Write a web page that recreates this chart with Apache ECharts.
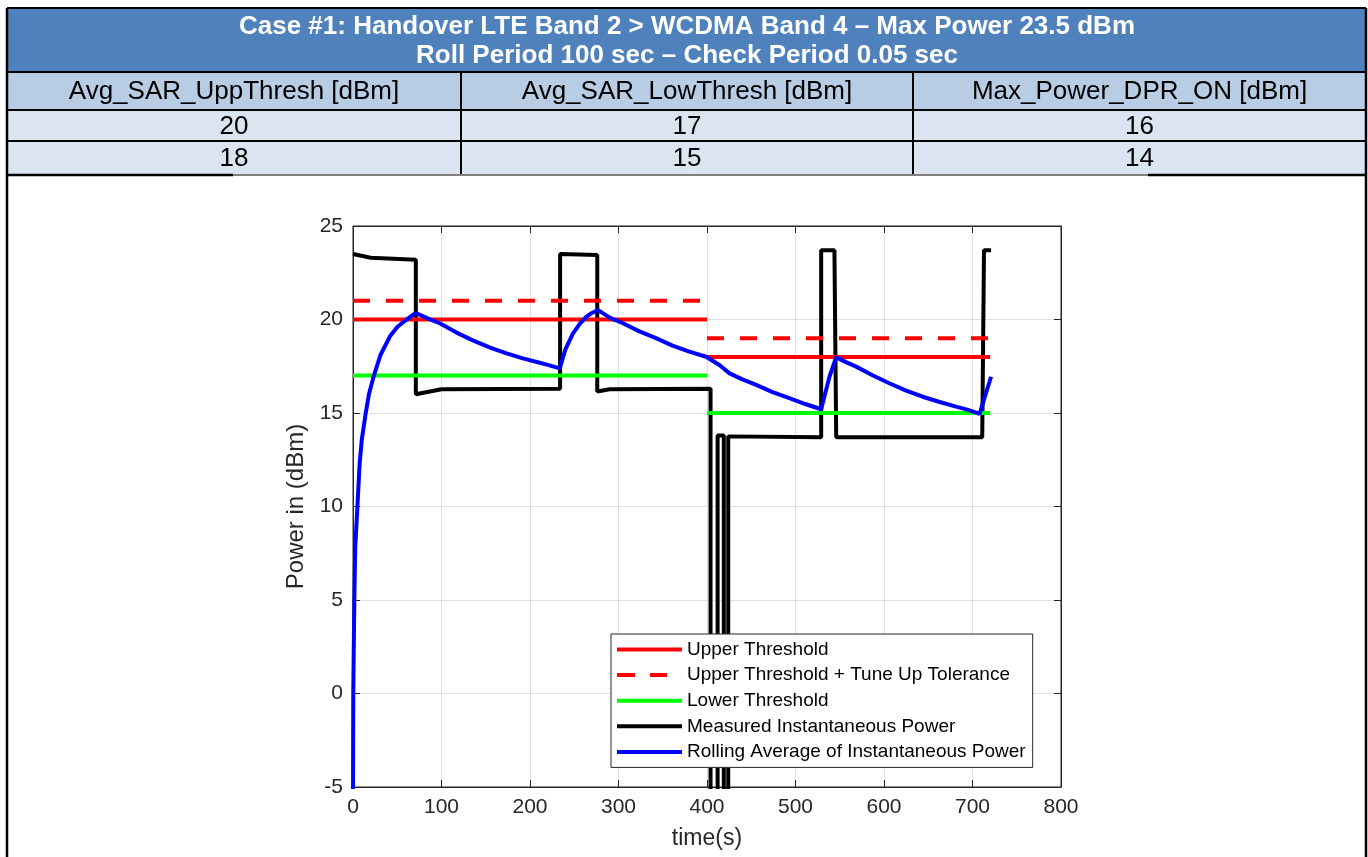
<!DOCTYPE html>
<html>
<head>
<meta charset="utf-8">
<script src="https://cdn.jsdelivr.net/npm/echarts@6/dist/echarts.min.js"></script>
<style>
  html, body { margin: 0; padding: 0; background: #fff; }
  #chart { width: 1368px; height: 857px; }
</style>
</head>
<body>
<div id="chart"></div>
<script>
// table above the plot
var titleLines = [
  "Case #1: Handover LTE Band 2 > WCDMA Band 4 \u2013 Max Power 23.5 dBm",
  "Roll Period 100 sec \u2013 Check Period 0.05 sec"
];
var tableHead = ["Avg_SAR_UppThresh [dBm]", "Avg_SAR_LowThresh [dBm]", "Max_Power_DPR_ON [dBm]"];
var tableRows = [[20, 17, 16], [18, 15, 14]];

// threshold phases (s) and levels (dBm)
var phaseStart = [0, 400];
var phaseEnd = [400, 720];
var upperThresh = [20, 18];
var upperTol = [21, 19];
var lowerThresh = [17, 15];

// measured instantaneous power
var measTime  = [0, 20, 71, 71, 73, 100, 234, 234, 276, 276, 290, 404, 404, 412, 412, 419, 419, 424, 424, 529, 529, 544, 546, 711, 713, 721];
var measPower = [23.5, 23.3, 23.2, 16.0, 16.05, 16.27, 16.3, 23.5, 23.45, 16.15, 16.27, 16.3, -40, -40, 13.8, 13.8, -40, -40, 13.75, 13.7, 23.7, 23.7, 13.7, 13.7, 23.7, 23.7];

// rolling average
var avgTime  = [0, 0.3, 1.5, 2.5, 5, 7.5, 10, 14.4, 18, 23, 31, 41.8, 50, 60.6, 71, 85, 98, 117, 136, 155, 173.5, 192, 211, 222, 233.6,
                240, 248.6, 256, 263.8, 270, 277, 290, 305, 323, 343, 361, 380, 399, 401, 414, 425.5, 440, 455.6, 474, 493, 511, 529,
                538.4, 546, 557, 568.5, 587, 606, 625, 643.7, 662, 681.4, 695, 708, 721];
var avgPower = [-6, 0, 5, 7.8, 10, 12.3, 13.6, 15, 16, 16.9, 18.1, 19.1, 19.6, 20, 20.35, 20.05, 19.8, 19.3, 18.87, 18.5, 18.19, 17.92, 17.69, 17.55, 17.39,
                18.4, 19.26, 19.75, 20.15, 20.35, 20.5, 20.1, 19.8, 19.38, 18.99, 18.6, 18.28, 18.01, 18.0, 17.57, 17.12, 16.8, 16.5, 16.12, 15.79, 15.48, 15.2,
                16.94, 17.98, 17.72, 17.48, 17.02, 16.59, 16.2, 15.87, 15.6, 15.34, 15.17, 14.95, 16.94];

var font = '"Liberation Sans", Arial, sans-serif';
var axisColor = '#262626';

function pairs(t, v) {
  return t.map(function (x, i) { return [x, v[i]]; });
}
function steps(levels) {
  var out = [];
  levels.forEach(function (v, i) {
    out.push([phaseStart[i], v], [phaseEnd[i], v], [phaseEnd[i], '-']);
  });
  return out;
}

// table drawn with graphic elements
var rowY = [8, 72, 110, 141, 174];
var colX = [7, 461, 913, 1366];
var tbl = [];
tbl.push({ type: 'rect', shape: { x: colX[0], y: rowY[0], width: colX[3] - colX[0], height: rowY[1] - rowY[0] }, style: { fill: '#4F81BD' } });
tbl.push({ type: 'rect', shape: { x: colX[0], y: rowY[1], width: colX[3] - colX[0], height: rowY[2] - rowY[1] }, style: { fill: '#B8CCE4' } });
tbl.push({ type: 'rect', shape: { x: colX[0], y: rowY[2], width: colX[3] - colX[0], height: rowY[4] - rowY[2] }, style: { fill: '#DBE5F1' } });
titleLines.forEach(function (s, i) {
  tbl.push({ type: 'text', x: 687, y: 27 + i * 29, style: { text: s, fill: '#fff', font: 'bold 26px ' + font, align: 'center', verticalAlign: 'middle' } });
});
var cells = [tableHead].concat(tableRows);
cells.forEach(function (row, r) {
  row.forEach(function (s, c) {
    tbl.push({ type: 'text', x: (colX[c] + colX[c + 1]) / 2, y: (rowY[r + 1] + rowY[r + 2]) / 2 + 1,
      style: { text: String(s), fill: '#000', font: '26px ' + font, align: 'center', verticalAlign: 'middle' } });
  });
});
[rowY[0], rowY[1], rowY[2], rowY[3]].forEach(function (y) {
  tbl.push({ type: 'line', shape: { x1: colX[0], y1: y, x2: colX[3], y2: y }, style: { stroke: '#000', lineWidth: 2 } });
});
[colX[1], colX[2]].forEach(function (x) {
  tbl.push({ type: 'line', shape: { x1: x, y1: rowY[1], x2: x, y2: rowY[4] }, style: { stroke: '#000', lineWidth: 2 } });
});
[colX[0], colX[3]].forEach(function (x) {
  tbl.push({ type: 'line', shape: { x1: x, y1: rowY[0], x2: x, y2: 857 }, style: { stroke: '#000', lineWidth: 2.5 } });
});
tbl.push({ type: 'line', shape: { x1: colX[0], y1: rowY[4] + 1, x2: 233, y2: rowY[4] + 1 }, style: { stroke: '#000', lineWidth: 2.5 } });
tbl.push({ type: 'line', shape: { x1: 233, y1: rowY[4] + 1, x2: 1148, y2: rowY[4] + 1 }, style: { stroke: '#000', lineWidth: 1 } });
tbl.push({ type: 'line', shape: { x1: 1148, y1: rowY[4] + 1, x2: colX[3], y2: rowY[4] + 1 }, style: { stroke: '#000', lineWidth: 2.5 } });

var chart = echarts.init(document.getElementById('chart'));

function lineSeries(name, data, color, width, dash) {
  return {
    type: 'line', name: name, data: data, symbol: 'none', animation: false,
    lineStyle: { color: color, width: width, type: dash || 'solid', cap: 'butt' },
    itemStyle: { color: color }
  };
}

var names = ['Upper Threshold', 'Upper Threshold + Tune Up Tolerance', 'Lower Threshold',
             'Measured Instantaneous Power', 'Rolling Average of Instantaneous Power'];
// legend swatches: a solid bar, or two dashes for the tolerance line
var solidIcon = 'path://M0 0H65V4H0Z';
var dashIcon = 'path://M0 0H18V4H0Z M33 0H50V4H33Z M64.9 0H65V4H64.9Z';

chart.setOption({
  animation: false,
  textStyle: { fontFamily: font },
  graphic: { elements: tbl },
  grid: { left: 353, top: 226, width: 708, height: 561, show: true, borderColor: axisColor, borderWidth: 1, backgroundColor: '#fff' },
  legend: {
    data: names.map(function (n, i) { return { name: n, icon: i === 1 ? dashIcon : solidIcon }; }),
    orient: 'vertical', left: 611, top: 634,
    itemWidth: 65, itemHeight: 4, itemGap: 6.6,
    padding: [6, 7, 6, 6],
    backgroundColor: '#fff', borderColor: axisColor, borderWidth: 1, borderRadius: 0,
    textStyle: { fontSize: 19, color: '#000', fontFamily: font }
  },
  xAxis: [{
    type: 'value', min: 0, max: 800, interval: 100, position: 'bottom',
    axisLine: { show: true, onZero: false, lineStyle: { color: axisColor, width: 1 } },
    axisTick: { show: true, inside: true, length: 7, lineStyle: { color: axisColor } },
    axisLabel: { color: axisColor, fontSize: 21, margin: 10 },
    splitLine: { show: true, lineStyle: { color: '#dfdfdf', width: 1 } },
    name: 'time(s)', nameLocation: 'middle', nameGap: 40,
    nameTextStyle: { color: axisColor, fontSize: 23 }
  }, {
    type: 'value', min: 0, max: 800, interval: 100, position: 'top',
    axisLine: { show: true, onZero: false, lineStyle: { color: axisColor, width: 1 } },
    axisTick: { show: true, inside: true, length: 7, lineStyle: { color: axisColor } },
    axisLabel: { show: false }, splitLine: { show: false }
  }],
  yAxis: [{
    type: 'value', min: -5, max: 25, interval: 5, position: 'left',
    axisLine: { show: true, onZero: false, lineStyle: { color: axisColor, width: 1 } },
    axisTick: { show: true, inside: true, length: 7, lineStyle: { color: axisColor } },
    axisLabel: { color: axisColor, fontSize: 21, margin: 10 },
    splitLine: { show: true, lineStyle: { color: '#dfdfdf', width: 1 } },
    name: 'Power in (dBm)', nameLocation: 'middle', nameGap: 43,
    nameTextStyle: { color: axisColor, fontSize: 24 }
  }, {
    type: 'value', min: -5, max: 25, interval: 5, position: 'right',
    axisLine: { show: true, onZero: false, lineStyle: { color: axisColor, width: 1 } },
    axisTick: { show: true, inside: true, length: 7, lineStyle: { color: axisColor } },
    axisLabel: { show: false }, splitLine: { show: false }
  }],
  series: [
    lineSeries(names[3], pairs(measTime, measPower), '#000000', 4),
    lineSeries(names[0], steps(upperThresh), '#ff0000', 4),
    lineSeries(names[1], steps(upperTol), '#ff0000', 4, [17, 16]),
    lineSeries(names[2], steps(lowerThresh), '#00ff00', 4),
    lineSeries(names[4], pairs(avgTime, avgPower), '#0000ff', 4)
  ]
});
</script>
</body>
</html>
